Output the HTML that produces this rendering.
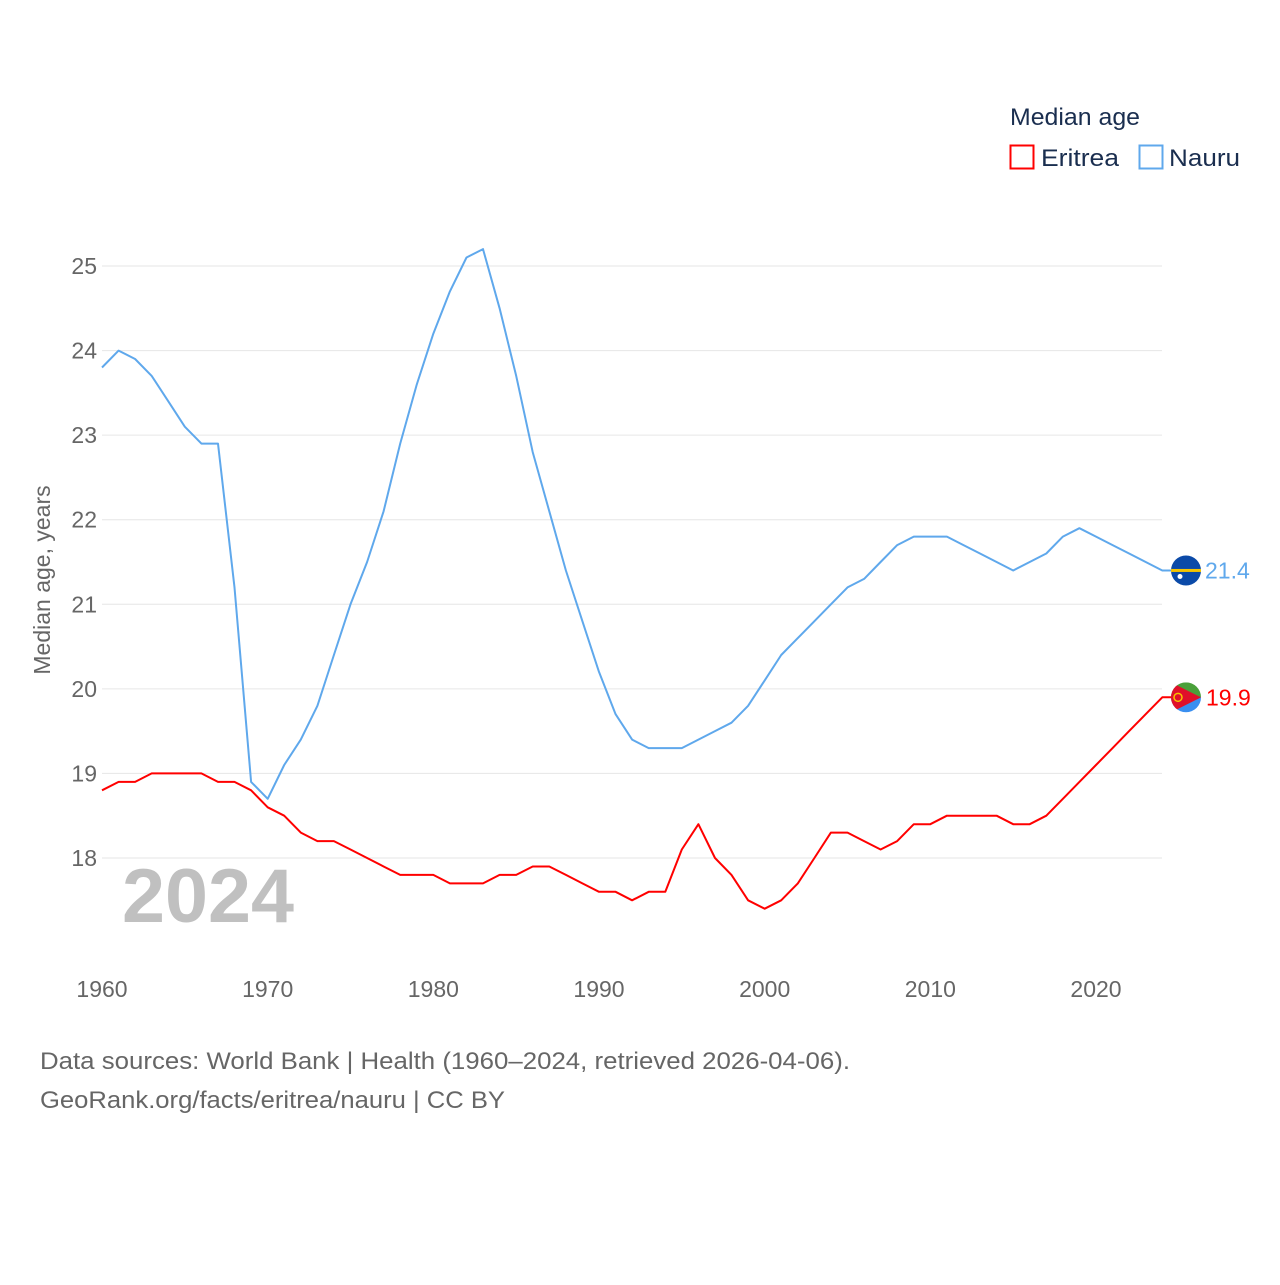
<!DOCTYPE html>
<html><head><meta charset="utf-8">
<style>
html,body{margin:0;padding:0;background:#fff;}
body{width:1280px;height:1280px;overflow:hidden;font-family:"Liberation Sans",sans-serif;}
svg text{font-family:"Liberation Sans",sans-serif;}
</style></head>
<body>
<svg id="chart" width="1280" height="1280" viewBox="0 0 1280 1280">
  <g id="grid"></g>
  <g id="yticks"></g>
  <g id="xticks"></g>
  <text x="208" y="922" font-size="76" font-weight="bold" fill="#c0c0c0" text-anchor="middle" textLength="172" lengthAdjust="spacingAndGlyphs">2024</text>
  <text transform="translate(50,580) rotate(-90)" font-size="23" fill="#666" text-anchor="middle">Median age, years</text>
  <g id="lines"></g>
  <g>
    <text x="1010" y="125" font-size="24" fill="#1a2e4f" textLength="130" lengthAdjust="spacingAndGlyphs">Median age</text>
    <g>
      <rect x="1010.5" y="145.5" width="23" height="23" fill="none" stroke="#ff0000" stroke-width="2"/>
      <text x="1041" y="166" font-size="24" fill="#1a2e4f" textLength="78" lengthAdjust="spacingAndGlyphs">Eritrea</text>
    </g>
    <g>
      <rect x="1139.5" y="145.5" width="23" height="23" fill="none" stroke="#5fa8ec" stroke-width="2"/>
      <text x="1169" y="166" font-size="24" fill="#1a2e4f" textLength="71" lengthAdjust="spacingAndGlyphs">Nauru</text>
    </g>
  </g>
  <g id="ends"></g>
  <text x="40" y="1069" font-size="24" fill="#666" textLength="810" lengthAdjust="spacingAndGlyphs">Data sources: World Bank | Health (1960–2024, retrieved 2026-04-06).</text>
  <text x="40" y="1108" font-size="24" fill="#666" textLength="465" lengthAdjust="spacingAndGlyphs">GeoRank.org/facts/eritrea/nauru | CC BY</text>
</svg>
<script>
const startYear = 1960;
const xTickLabels = [1960,1970,1980,1990,2000,2010,2020];
const yTickLabels = [18,19,20,21,22,23,24,25];
const nauruValues = [23.8,24.0,23.9,23.7,23.4,23.1,22.9,22.9,21.2,18.9,18.7,19.1,19.4,19.8,20.4,21.0,21.5,22.1,22.9,23.6,24.2,24.7,25.1,25.2,24.5,23.7,22.8,22.1,21.4,20.8,20.2,19.7,19.4,19.3,19.3,19.3,19.4,19.5,19.6,19.8,20.1,20.4,20.6,20.8,21.0,21.2,21.3,21.5,21.7,21.8,21.8,21.8,21.7,21.6,21.5,21.4,21.5,21.6,21.8,21.9,21.8,21.7,21.6,21.5,21.4];
const eritreaValues = [18.8,18.9,18.9,19.0,19.0,19.0,19.0,18.9,18.9,18.8,18.6,18.5,18.3,18.2,18.2,18.1,18.0,17.9,17.8,17.8,17.8,17.7,17.7,17.7,17.8,17.8,17.9,17.9,17.8,17.7,17.6,17.6,17.5,17.6,17.6,18.1,18.4,18.0,17.8,17.5,17.4,17.5,17.7,18.0,18.3,18.3,18.2,18.1,18.2,18.4,18.4,18.5,18.5,18.5,18.5,18.4,18.4,18.5,18.7,18.9,19.1,19.3,19.5,19.7,19.9];

const NS='http://www.w3.org/2000/svg';
function X(yr){return 102+(yr-1960)*(994/60);}
function Y(v){return 858-(v-18)*(592/7);}
function mk(tag,attrs,parent){const e=document.createElementNS(NS,tag);for(const k in attrs)e.setAttribute(k,attrs[k]);parent.appendChild(e);return e;}

const grid=document.getElementById('grid'), yt=document.getElementById('yticks'), xt=document.getElementById('xticks');
yTickLabels.forEach(v=>{
  const l=mk('line',{x1:102,x2:1162,y1:Y(v),y2:Y(v),stroke:'#e6e6e6','stroke-width':1},grid);
  
  
  const t=mk('text',{x:97,y:Y(v)+8,'font-size':23,fill:'#666','text-anchor':'end'},yt);
  t.textContent=v;
  
  
});
xTickLabels.forEach(yr=>{
  const t=mk('text',{x:X(yr),y:997,'font-size':23,fill:'#666','text-anchor':'middle'},xt);
  t.textContent=yr;
  
  
});
const lines=document.getElementById('lines');
function drawSeries(vals,color,name){
  let d=vals.map((v,i)=>(i?'L':'M')+X(startYear+i).toFixed(1)+','+Y(v).toFixed(1)).join(' ');
  const last=vals[vals.length-1];
  d+=' L'+(X(startYear+vals.length-1)+10).toFixed(1)+','+Y(last).toFixed(1);
  const p=mk('path',{d:d,fill:'none',stroke:color,'stroke-width':2,'stroke-linejoin':'round'},lines);
  
  
}
drawSeries(nauruValues,'#5fa8ec','nauru');
drawSeries(eritreaValues,'#ff0000','eritrea');

const ends=document.getElementById('ends');
const ny=Y(nauruValues[nauruValues.length-1]);
const nf=mk('g',{},ends);


mk('circle',{cx:1186,cy:ny,r:15,fill:'#0b4aa8'},nf);
mk('rect',{x:1171,y:ny-1.5,width:30,height:3,fill:'#f5c400'},nf);
mk('circle',{cx:1180,cy:ny+6,r:2.5,fill:'#fff'},nf);
const nl=mk('text',{x:1205,y:ny+8,'font-size':23,fill:'#5fa8ec'},ends);
nl.textContent=nauruValues[nauruValues.length-1].toFixed(1);


const ey=Y(eritreaValues[eritreaValues.length-1]);
const ef=mk('g',{},ends);


const cp=mk('clipPath',{id:'ec'},ef);
mk('circle',{cx:1186,cy:ey,r:15},cp);
const eg=mk('g',{'clip-path':'url(#ec)'},ef);
mk('rect',{x:1171,y:ey-15,width:30,height:15,fill:'#4aa03a'},eg);
mk('rect',{x:1171,y:ey,width:30,height:15,fill:'#3a8ff0'},eg);
mk('polygon',{points:`1171,${ey-15} 1201,${ey} 1171,${ey+15}`,fill:'#e0102a'},eg);
mk('circle',{cx:1178,cy:ey,r:4,fill:'none',stroke:'#f5c400','stroke-width':1.5},eg);
const el=mk('text',{x:1206,y:ey+8,'font-size':23,fill:'#ff0000'},ends);
el.textContent=eritreaValues[eritreaValues.length-1].toFixed(1);


</script>
</body></html>
